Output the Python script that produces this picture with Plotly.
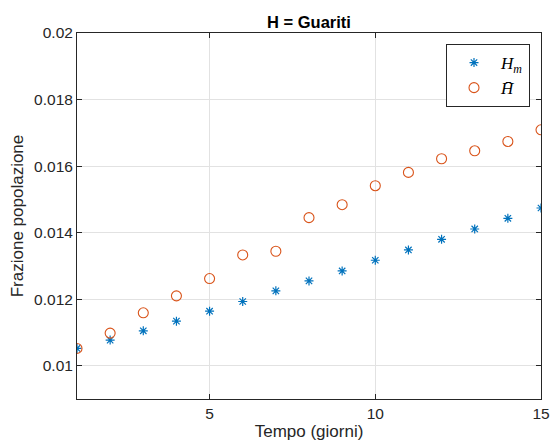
import plotly.graph_objects as go

giorni = list(range(1, 16))
H_m = [0.01052, 0.01077, 0.01105, 0.01134, 0.01164, 0.01193, 0.01225, 0.01255,
       0.01285, 0.01317, 0.01348, 0.01380, 0.01411, 0.01443, 0.01474]
H_bar = [0.01052, 0.01098, 0.01159, 0.01210, 0.01262, 0.01333, 0.01344, 0.01445,
         0.01484, 0.01541, 0.01581, 0.01622, 0.01646, 0.01674, 0.01709]
x_ticks = [5, 10, 15]
y_ticks = [0.01, 0.012, 0.014, 0.016, 0.018, 0.02]
y_ticklabels = ["0.01", "0.012", "0.014", "0.016", "0.018", "0.02"]

blue = "#0072BD"
orange = "#D95319"
dark = "#262626"
grid = "#e2e2e2"
font = "Liberation Sans, Arial, sans-serif"

fig = go.Figure()
fig.add_trace(go.Scatter(
    x=giorni, y=H_m, mode="markers",
    name="<i>H</i><sub><i>m</i></sub>",
    marker=dict(symbol="asterisk-open", size=7.5, color=blue,
                line=dict(color=blue, width=1.2)),
))
fig.add_trace(go.Scatter(
    x=giorni, y=H_bar, mode="markers",
    name="<i>H\u0304</i>",
    marker=dict(symbol="circle-open", size=10, color=orange,
                line=dict(color=orange, width=1.1)),
))

axis_common = dict(
    showgrid=True, gridcolor=grid, gridwidth=1,
    showline=True, linecolor=dark, linewidth=1, mirror="ticks",
    ticks="inside", ticklen=5, tickcolor=dark, tickwidth=1,
    zeroline=False, automargin=False,
    tickfont=dict(family=font, size=15.5, color=dark),
)

fig.update_layout(
    width=552, height=446,
    margin=dict(l=77, r=11, t=33, b=47),
    paper_bgcolor="white", plot_bgcolor="white",
    title=dict(text="<b>H = Guariti</b>", x=(77 + 541) / 2 / 552, xanchor="center",
               y=1 - 22 / 446, yanchor="middle", yref="container",
               font=dict(family=font, size=16.5, color="black")),
    xaxis=dict(range=[1, 15], tickvals=x_ticks,
               title=dict(text="Tempo (giorni)", standoff=4,
                          font=dict(family=font, size=17, color=dark)),
               **axis_common),
    yaxis=dict(range=[0.009, 0.02], tickvals=y_ticks, ticktext=y_ticklabels,
               title=dict(text="Frazione popolazione", standoff=6,
                          font=dict(family=font, size=17, color=dark)),
               **axis_common),
    legend=dict(x=(530 - 77) / 464, xanchor="right", y=(399 - 44) / 366, yanchor="top",
                bgcolor="white", bordercolor=dark, borderwidth=1,
                font=dict(family="Liberation Serif, DejaVu Serif, serif", size=17, color="black"),
                itemwidth=44, tracegroupgap=0),
    showlegend=True,
)

fig.write_html("out.html")
